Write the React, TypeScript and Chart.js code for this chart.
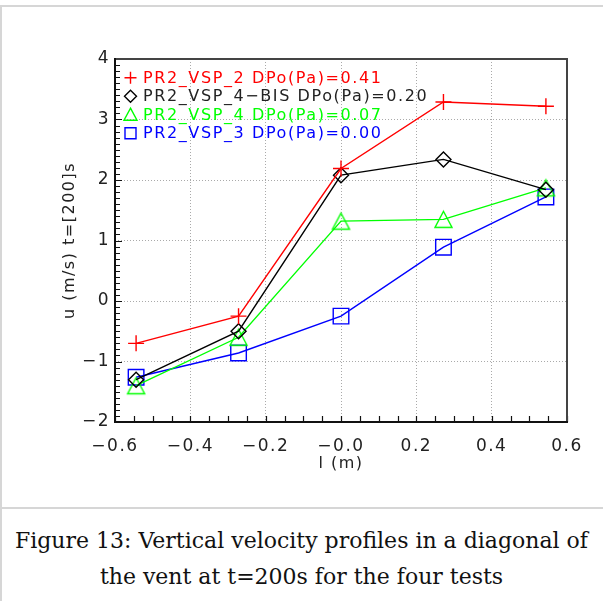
import React, { useEffect, useRef } from 'react';
import { Chart, registerables } from 'chart.js';

Chart.register(...registerables);

// ---- data ----
const positions = [-0.544, -0.272, 0.0, 0.272, 0.544];
const seriesLabels = [
  'PR2_VSP_2 DPo(Pa)=0.41',
  'PR2_VSP_4−BIS DPo(Pa)=0.20',
  'PR2_VSP_4 DPo(Pa)=0.07',
  'PR2_VSP_3 DPo(Pa)=0.00',
];
const vsp2 = [-0.7, -0.25, 2.19, 3.29, 3.22];
const vsp4bis = [-1.3, -0.5, 2.08, 2.34, 1.84];
const vsp4 = [-1.4, -0.6, 1.32, 1.35, 1.87];
const vsp3 = [-1.26, -0.86, -0.25, 0.89, 1.72];
const seriesColors = ['#ff0000', '#000000', '#00ff00', '#0000ff'];
const xTickLabels = ['−0.6', '−0.4', '−0.2', '−0.0', '0.2', '0.4', '0.6'];
const yTickLabels = ['−2', '−1', '0', '1', '2', '3', '4'];
const xTitle = 'l (m)';
const yTitle = 'u (m/s) t=[200]s';
const captionLines = [
  'Figure 13: Vertical velocity profiles in a diagonal of',
  'the vent at t=200s for the four tests',
];

const FONT = 'DejaVu Sans';

function makeTriangle(color: string, halfW: number, up: number, down: number, lw: number) {
  const c = document.createElement('canvas');
  const s = Math.ceil(Math.max(halfW, up, down) * 2 + 4);
  c.width = s;
  c.height = s;
  const g = c.getContext('2d')!;
  const cx = s / 2;
  const cy = s / 2;
  g.strokeStyle = color;
  g.lineWidth = lw;
  g.lineJoin = 'miter';
  g.beginPath();
  g.moveTo(cx, cy - up);
  g.lineTo(cx + halfW, cy + down);
  g.lineTo(cx - halfW, cy + down);
  g.closePath();
  g.stroke();
  return c;
}

function drawSymbol(ctx: CanvasRenderingContext2D, kind: number, x: number, y: number, color: string) {
  ctx.save();
  ctx.strokeStyle = color;
  ctx.lineWidth = 1.4;
  ctx.beginPath();
  if (kind === 0) {
    ctx.moveTo(x - 6, y);
    ctx.lineTo(x + 6, y);
    ctx.moveTo(x, y - 6);
    ctx.lineTo(x, y + 6);
  } else if (kind === 1) {
    ctx.moveTo(x - 6, y);
    ctx.lineTo(x, y - 6);
    ctx.lineTo(x + 6, y);
    ctx.lineTo(x, y + 6);
    ctx.closePath();
  } else if (kind === 2) {
    ctx.moveTo(x, y - 6.5);
    ctx.lineTo(x + 6.5, y + 5.5);
    ctx.lineTo(x - 6.5, y + 5.5);
    ctx.closePath();
  } else {
    ctx.rect(x - 5.5, y - 5.5, 11, 11);
  }
  ctx.stroke();
  ctx.restore();
}

const framePlugin = {
  id: 'idlFrame',
  beforeDraw(chart: any) {
    (chart.ctx as any).letterSpacing = '1.5px';
  },
  afterDraw(chart: any) {
    const ctx: CanvasRenderingContext2D = chart.ctx;
    const a = chart.chartArea;
    const xs = chart.scales.x;
    const ys = chart.scales.y;
    ctx.save();
    (ctx as any).letterSpacing = '0px';
    // inward ticks
    ctx.strokeStyle = '#111';
    ctx.lineWidth = 1.2;
    ctx.beginPath();
    for (let k = -12; k <= 12; k++) {
      const px = Math.round(xs.getPixelForValue(k * 0.05)) + 0.5;
      ctx.moveTo(px, a.bottom);
      ctx.lineTo(px, a.bottom - 6);
    }
    for (let k = -20; k <= 40; k++) {
      const py = Math.round(ys.getPixelForValue(k * 0.1)) + 0.5;
      const len = k % 10 === 0 ? 7 : 5;
      ctx.moveTo(a.left, py);
      ctx.lineTo(a.left + len, py);
    }
    ctx.stroke();
    // box
    ctx.lineWidth = 2;
    ctx.strokeStyle = '#444';
    ctx.beginPath();
    ctx.moveTo(a.left, a.top);
    ctx.lineTo(a.right, a.top);
    ctx.lineTo(a.right, a.bottom);
    ctx.stroke();
    ctx.strokeStyle = '#111';
    ctx.beginPath();
    ctx.moveTo(a.left, a.top - 1);
    ctx.lineTo(a.left, a.bottom);
    ctx.lineTo(a.right + 1, a.bottom);
    ctx.stroke();
    // legend
    (ctx as any).letterSpacing = '1.6px';
    ctx.font = `16px "${FONT}"`;
    ctx.textAlign = 'left';
    ctx.textBaseline = 'alphabetic';
    chart.data.datasets.forEach((ds: any, i: number) => {
      const cy = a.top + 17.7 + i * 18.5;
      drawSymbol(ctx, i, a.left + 15.5, cy + 1, ds.borderColor);
      ctx.fillStyle = i === 1 ? '#222' : ds.borderColor;
      ctx.fillText(ds.label, a.left + 28, cy + 5.8);
    });
    ctx.restore();
  },
};

export default function App() {
  const ref = useRef<HTMLCanvasElement>(null);
  useEffect(() => {
    const tri = makeTriangle(seriesColors[2], 8.5, 8, 8, 1.4);
    const styles: any[] = ['cross', 'rectRot', tri, 'rect'];
    const radii = [8, 7.5, 8, 11];
    const values = [vsp2, vsp4bis, vsp4, vsp3];
    const chart = new Chart(ref.current!, {
      type: 'line',
      data: {
        datasets: values.map((vals, i) => ({
          label: seriesLabels[i],
          data: vals.map((v, j) => ({ x: positions[j], y: v })),
          borderColor: seriesColors[i],
          backgroundColor: 'transparent',
          borderWidth: 1.4,
          pointStyle: styles[i],
          pointRadius: radii[i],
          pointBorderWidth: 1.4,
          pointBorderColor: seriesColors[i],
          pointBackgroundColor: 'transparent',
          tension: 0,
          clip: false as any,
        })),
      },
      options: {
        animation: false,
        responsive: false,
        events: [],
        layout: { padding: { left: 0, top: 59, right: 36, bottom: 0 } },
        plugins: { legend: { display: false }, tooltip: { enabled: false } },
        scales: {
          x: {
            type: 'linear',
            min: -0.6,
            max: 0.6,
            afterFit: (s: any) => {
              s.height = 78;
            },
            ticks: {
              stepSize: 0.2,
              autoSkip: false,
              maxRotation: 0,
              padding: 14,
              color: '#222',
              font: { family: FONT, size: 17 },
              callback: (_v: any, i: number) => xTickLabels[i],
            },
            grid: { color: '#aaa', lineWidth: 1, drawTicks: false },
            border: { display: false, dash: [1, 2] },
            title: {
              display: true,
              text: xTitle,
              color: '#222',
              font: { family: FONT, size: 16 },
              padding: { top: 0, bottom: 27 },
            },
          },
          y: {
            type: 'linear',
            min: -2,
            max: 4,
            afterFit: (s: any) => {
              s.width = 115;
            },
            ticks: {
              stepSize: 1,
              autoSkip: false,
              padding: 5,
              color: '#222',
              font: { family: FONT, size: 17 },
              callback: (_v: any, i: number) => yTickLabels[i],
            },
            grid: { color: '#aaa', lineWidth: 1, drawTicks: false },
            border: { display: false, dash: [1, 2] },
            title: {
              display: true,
              text: yTitle,
              color: '#222',
              font: { family: FONT, size: 16 },
              padding: { top: 60, bottom: 0 },
            },
          },
        },
      },
      plugins: [framePlugin],
    } as any);
    return () => chart.destroy();
  }, []);

  return (
    <div style={{ position: 'absolute', left: 0, top: 0, width: 603, height: 601, background: '#fff', overflow: 'hidden' }}>
      <div style={{ position: 'absolute', left: 0, top: 5, width: 603, height: 2, background: '#d6d6d6' }} />
      <div style={{ position: 'absolute', left: 0, top: 5, width: 2, height: 596, background: '#d6d6d6' }} />
      <div style={{ position: 'absolute', left: 0, top: 507, width: 603, height: 2, background: '#d6d6d6' }} />
      <canvas ref={ref} width={603} height={500} style={{ position: 'absolute', left: 0, top: 0, width: 603, height: 500 }} />
      <div
        style={{
          position: 'absolute',
          left: 0,
          top: 523,
          width: 603,
          textAlign: 'center',
          fontFamily: '"DejaVu Serif", serif',
          fontSize: 22,
          lineHeight: '36px',
          color: '#111',
          whiteSpace: 'nowrap',
        }}
      >
        {captionLines[0]}
        <br />
        {captionLines[1]}
      </div>
    </div>
  );
}
